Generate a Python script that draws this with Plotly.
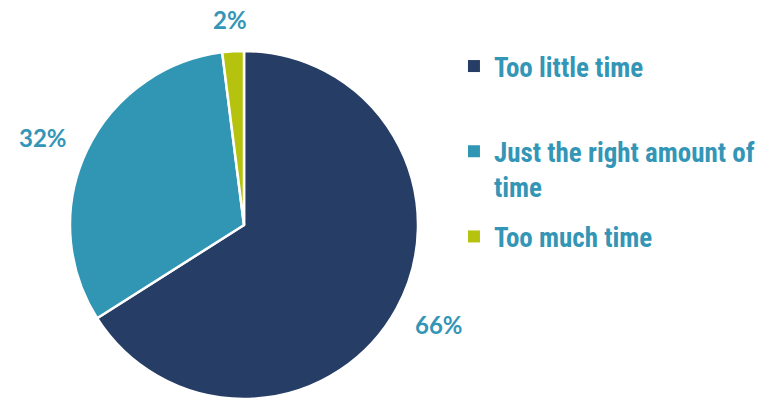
import math
import plotly.graph_objects as go

categories = ["Too little time", "Just the right amount of<br>time", "Too much time"]
values = [66, 32, 2]
colors = ["#263D66", "#3195B4", "#B5C20E"]
text_color = "#3496B6"

W, H = 776, 400
# pie placement (pixels)
CX, CY, R = 244, 225, 174
dom_x = [(CX - R) / W, (CX + R) / W]
dom_y = [1 - (CY + R) / H, 1 - (CY - R) / H]

fig = go.Figure()
fig.add_trace(go.Pie(
    labels=categories,
    values=values,
    sort=False,
    direction="clockwise",
    rotation=0,
    marker=dict(colors=colors, line=dict(color="white", width=2.5)),
    textinfo="none",
    showlegend=False,
    hoverinfo="label+percent",
    domain=dict(x=dom_x, y=dom_y),
))

# percentage labels outside the slices, placed from each slice's mid-angle
total = sum(values)
cum = 0
for v in values:
    mid = (cum + v / 2) / total * 2 * math.pi
    cum += v
    dx, dy = math.sin(mid), -math.cos(mid)
    px = CX + dx * (R + 18 + 30)
    py = CY + dy * (R + 18 + 14)
    fig.add_annotation(
        x=px / W, y=1 - py / H, xref="paper", yref="paper",
        xanchor="center", yanchor="middle", showarrow=False,
        text=f"{v}%",
        font=dict(family="Lato, Open Sans, sans-serif", size=24, color=text_color, weight="bold"),
    )

# legend entries (one group each so spacing can be set)
pad = ["<br> ", "", ""]
for i, (name, col) in enumerate(zip(categories, colors)):
    fig.add_trace(go.Scatter(
        x=[None], y=[None], mode="markers", name=name + pad[i],
        marker=dict(symbol="square", size=11, color=col),
        legendgroup=f"g{i}", showlegend=True,
    ))

fig.update_layout(
    width=W, height=H,
    margin=dict(l=0, r=0, t=0, b=0, autoexpand=False),
    paper_bgcolor="white", plot_bgcolor="white",
    xaxis=dict(visible=False), yaxis=dict(visible=False),
    legend=dict(
        x=0.585, xanchor="left", y=0.895, yanchor="top",
        font=dict(family="Roboto Condensed, Open Sans Condensed, sans-serif",
                  size=27, color=text_color, weight="bold"),
        valign="top", tracegroupgap=12, itemsizing="constant",
    ),
)
fig.write_html("out.html", config={"displayModeBar": False},
               post_script="document.body.style.margin='0';document.body.style.overflow='hidden';")
